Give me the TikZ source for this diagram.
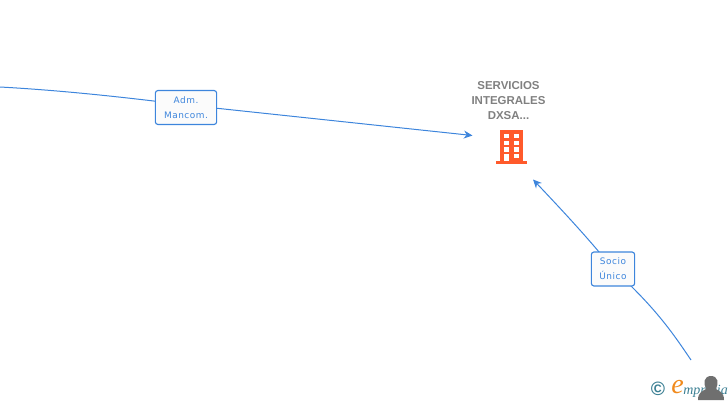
\documentclass[tikz,border=0pt]{standalone}
\usepackage{fontspec}
\setmainfont{Liberation Sans}
\newfontfamily\lblfont[LetterSpace=6]{DejaVu Sans}
\newfontfamily\logofont{Liberation Serif}
\definecolor{edgeblue}{HTML}{3D85DC}
\definecolor{titlegrey}{HTML}{808080}
\definecolor{iconorange}{HTML}{FF5A2B}
\definecolor{logoteal}{HTML}{3B7F93}
\definecolor{logoorange}{HTML}{F08A1D}
\definecolor{persongrey}{HTML}{6F6F6F}
\definecolor{boxfill}{HTML}{FBFBFB}
\usetikzlibrary{arrows.meta,backgrounds}
\tikzset{
  rolebox/.style={draw=edgeblue,line width=0.85pt,rounded corners=2pt,fill=boxfill,
    text=edgeblue,font=\lblfont\fontsize{6.7}{11.2}\selectfont,align=center,inner sep=0pt},
  link/.style={draw=edgeblue,line width=0.75pt},
  arrowed/.style={link,-{Stealth[length=6.5pt,width=6pt]}},
  titletext/.style={text=titlegrey,font=\fontsize{8.6}{11.3}\selectfont\bfseries,align=center,inner sep=0pt}
}
\begin{document}
\begin{tikzpicture}[x=0.75pt,y=-0.75pt]
\useasboundingbox (0,0) rectangle (728,400);
\coordinate (startA) at (0,87);
\coordinate (endA) at (472.5,135.5);
\coordinate (startB) at (691,360);
\coordinate (endB) at (533,179.5);
\node[rolebox,minimum width=46pt,minimum height=25.5pt] (adm) at (186,107.5) {Adm.\\Mancom.};
\node[rolebox,minimum width=32.5pt,minimum height=25.5pt] (socio) at (613,269) {Socio\\Único};
\begin{scope}[on background layer]
\draw[link] (startA) .. controls (55,90) and (115,96) .. ([yshift=1.9pt]adm.center);
\draw[arrowed] ([yshift=1.9pt]adm.center) -- (endA);
\draw[link] (startB) .. controls (674,335) and (657,309) .. (socio.center);
\draw[arrowed] (socio.center) .. controls (590,240) and (560,208) .. (endB);
\end{scope}
\node[titletext] (title) at (508.5,100.5) {SERVICIOS\\INTEGRALES\\DXSA...};
% building icon
\fill[iconorange] (500,130) rectangle (522.5,161);
\fill[iconorange] (495.5,160.5) rectangle (527,164);
\foreach \wx in {503.5,513.5}{
  \foreach \wy in {134,140.7,147.3}{
    \fill[white] (\wx,\wy) rectangle ++(5,4.4);
  }
}
\fill[white] (513.5,154) rectangle ++(5,4.4);
\fill[white] (503.5,154) rectangle ++(5,7);
% logo
\node[inner sep=0pt,text=logoteal,font=\bfseries\fontsize{14.5}{14.5}\selectfont] (copy) at (658,389) {©};
\node[inner sep=0pt,text=logoorange,font=\logofont\itshape\fontsize{21}{21}\selectfont] (elogo) at (677.5,387.5) {e};
\node[inner sep=0pt,anchor=base west,text=logoteal,font=\logofont\itshape\fontsize{10.5}{10.5}\selectfont] (mpr) at (683,394) {mpresia};
\fill[persongrey] (698,400) .. controls (698,392) and (703,391) .. (706,389)
  .. controls (703,383) and (704,376) .. (711,376)
  .. controls (718,376) and (719,383) .. (716,389)
  .. controls (719,391) and (724,392) .. (724,400) -- cycle;
\end{tikzpicture}
\end{document}
